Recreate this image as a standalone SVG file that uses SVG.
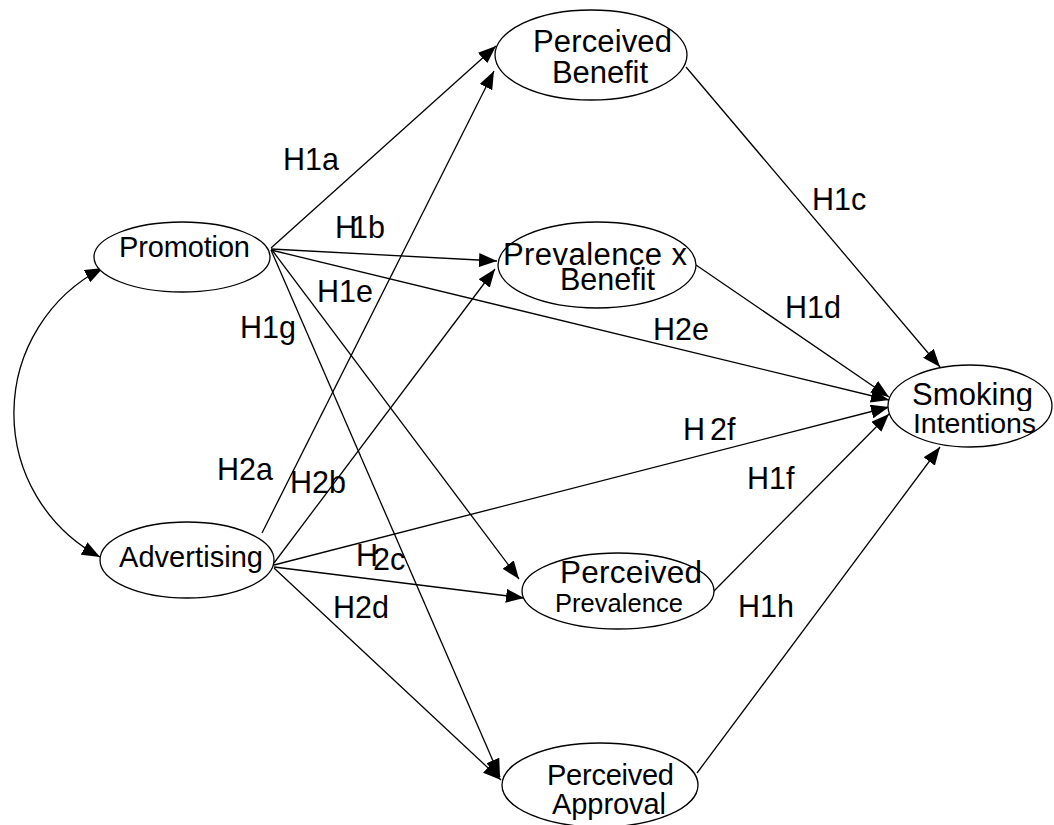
<svg xmlns="http://www.w3.org/2000/svg" width="1054" height="825" viewBox="0 0 1054 825">
<style>
.node ellipse{fill:#fff;stroke:#000;stroke-width:1.3}
text{font-family:"Liberation Sans",Arial,sans-serif;font-size:30px;fill:#000}
.lbl{font-size:30.5px}
#connectors path,#connectors line{stroke:#000;stroke-width:1.3;fill:none;marker-end:url(#ah)}
</style>
<defs>
<marker id="ah" markerWidth="18" markerHeight="14" refX="18" refY="7" orient="auto-start-reverse" markerUnits="userSpaceOnUse"><path d="M0,0 L18,7 L0,14 z" fill="#000"/></marker>
<clipPath id="smkclip"><rect x="880" y="360" width="174" height="51"/></clipPath>
</defs>
<rect width="1054" height="825" fill="#fff"/>
<g id="connectors">
<path d="M103,268 A163,163 0 0 0 100,557" style="marker-start:url(#ah)"/>
<line x1="271" y1="248" x2="496" y2="46"/>
<line x1="271" y1="249" x2="497" y2="261"/>
<line x1="271" y1="250" x2="889" y2="400"/>
<line x1="272" y1="250" x2="519" y2="579"/>
<line x1="271" y1="250" x2="500" y2="777"/>
<line x1="262" y1="533" x2="494" y2="71"/>
<line x1="274" y1="563" x2="495" y2="269"/>
<line x1="274" y1="565" x2="889" y2="407"/>
<line x1="274" y1="567" x2="524" y2="598"/>
<line x1="274" y1="568" x2="501" y2="780"/>
<line x1="686" y1="67" x2="940" y2="367"/>
<line x1="696" y1="265" x2="889" y2="397"/>
<line x1="713" y1="592" x2="889" y2="414"/>
<line x1="697" y1="773" x2="940" y2="447"/>
</g>
<g id="promotion" class="node"><ellipse cx="182" cy="257" rx="88" ry="35"/><text x="119" y="257" style="font-size:29px" textLength="131">Promotion</text></g>
<g id="advertising" class="node"><ellipse cx="187" cy="560" rx="87" ry="38"/><text x="119" y="567" style="font-size:29px" textLength="144">Advertising</text></g>
<g id="perceived-benefit" class="node"><ellipse cx="591" cy="55" rx="96" ry="45"/><text x="533" y="52" style="font-size:31px" textLength="139">Perceived</text><text x="552" y="83" style="font-size:31px" textLength="96">Benefit</text></g>
<g id="prevalence-benefit" class="node"><ellipse cx="597" cy="265" rx="99" ry="43"/><text x="503" y="265" style="font-size:31px" textLength="184">Prevalence x</text><text x="560" y="290" style="font-size:30.5px" textLength="95">Benefit</text></g>
<g id="perceived-prevalence" class="node"><ellipse cx="618" cy="591" rx="96" ry="38"/><text x="560" y="583" style="font-size:31.5px" textLength="142">Perceived</text><text x="555" y="612" style="font-size:25.5px" textLength="128">Prevalence</text></g>
<g id="perceived-approval" class="node"><ellipse cx="600" cy="785" rx="98" ry="42"/><text x="547" y="785" style="font-size:29px" textLength="127">Perceived</text><text x="552" y="814" style="font-size:29px" textLength="114">Approval</text></g>
<g id="smoking-intentions" class="node"><ellipse cx="970" cy="406" rx="82" ry="41"/><text x="912" y="405" style="font-size:31px" textLength="121" clip-path="url(#smkclip)">Smoking</text><text x="913" y="433" style="font-size:28.5px" textLength="123">Intentions</text></g>
<g id="labels">
<text class="lbl" x="283" y="170">H1a</text>
<text class="lbl" x="335" y="238">H<tspan dx="-6">1b</tspan></text>
<text class="lbl" x="317" y="302">H1e</text>
<text class="lbl" x="240" y="338">H1g</text>
<text class="lbl" x="812" y="210">H1c</text>
<text class="lbl" x="785" y="318">H1d</text>
<text class="lbl" x="653" y="340">H2e</text>
<text class="lbl" x="217" y="480">H2a</text>
<text class="lbl" x="290" y="493">H2b</text>
<text class="lbl" x="683" y="440">H <tspan x="710">2f</tspan></text>
<text class="lbl" x="747" y="489">H1f</text>
<text class="lbl" x="356" y="566">H<tspan dx="-5" dy="4">2c</tspan></text>
<text class="lbl" x="333" y="618">H2d</text>
<text class="lbl" x="738" y="617">H1h</text>
</g>
</svg>
